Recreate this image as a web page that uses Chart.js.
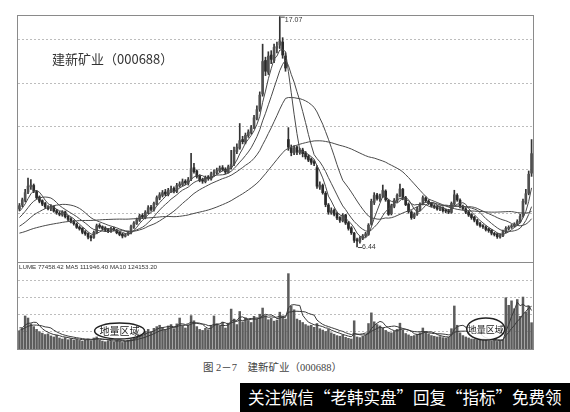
<!DOCTYPE html>
<html>
<head>
<meta charset="utf-8">
<script src="https://cdn.jsdelivr.net/npm/chart.js@4.4.1/dist/chart.umd.min.js"></script>
<style>
  html, body { margin: 0; padding: 0; background: #fff; width: 570px; height: 412px; overflow: hidden; position: relative; }
  #frame { position: absolute; left: 17px; top: 15px; width: 517px; height: 335px; box-sizing: border-box; border: 1px solid #8a8a8a; }
  #sep { position: absolute; left: 17px; top: 262px; width: 517px; height: 1px; background: #8a8a8a; }
  #main { position: absolute; left: 18px; top: 16px; }
  #vol { position: absolute; left: 18px; top: 263px; }
  #title { position: absolute; left: 52px; top: 49px; font: 13px "Noto Sans CJK SC", sans-serif; color: #333; white-space: nowrap; }
  #caption { position: absolute; left: 203px; top: 359px; font: 10.5px "Liberation Serif", "Noto Sans CJK SC", serif; color: #444; white-space: nowrap; }
  #banner { position: absolute; left: 240px; top: 383px; width: 330px; height: 29px; background: #000; overflow: hidden; }
  #banner span { position: absolute; left: 8px; top: 3px; font: 16.5px "Noto Sans CJK SC", sans-serif; color: #fff; white-space: nowrap; line-height: 22px; }
</style>
</head>
<body>
<div id="frame"></div>
<div id="sep"></div>
<canvas id="main" width="515" height="246"></canvas>
<canvas id="vol" width="515" height="86"></canvas>
<div id="title">建新矿业（000688）</div>
<div id="caption">图 2－7　建新矿业（000688）</div>
<div id="banner"><span>关注微信“老韩实盘”回复“指标”免费领</span></div>
<script>
// Daily candles, oldest first
const opens = [
  8.20, 8.38, 8.60, 8.98, 9.22, 9.28, 9.00, 8.75, 8.58, 8.45,
  8.28, 8.20, 8.30, 8.12, 8.00, 7.92, 8.06, 7.85, 7.74, 7.62,
  7.50, 7.36, 7.30, 7.14, 7.06, 6.92, 6.88, 7.10, 7.44, 7.38,
  7.32, 7.24, 7.16, 7.30, 7.22, 7.12, 7.04, 6.94, 7.02, 7.10,
  7.36, 7.52, 7.68, 7.90, 7.80, 8.02, 8.28, 8.16, 8.42, 8.70,
  8.82, 8.98, 8.86, 9.02, 9.15, 9.00, 9.26, 9.32, 9.48, 9.38,
  9.58, 10.10, 9.95, 9.72, 9.55, 9.46, 9.68, 9.58, 9.80, 9.88,
  9.96, 10.10, 10.04, 9.88, 10.12, 10.28, 10.85, 11.00, 11.40, 11.28,
  11.58, 11.72, 11.98, 12.38, 12.80, 13.50, 15.05, 14.50, 15.30, 15.05,
  15.62, 15.75, 15.90, 15.25, 11.40, 11.02, 10.78, 11.05, 10.80, 10.92,
  10.78, 10.62, 10.50, 10.38, 10.10, 9.20, 9.28, 8.92, 8.38, 8.02,
  8.14, 7.98, 7.80, 7.65, 7.92, 7.56, 7.32, 7.08, 6.78, 6.70,
  6.84, 6.96, 7.02, 7.50, 8.50, 8.85, 8.66, 8.80, 9.02, 8.60,
  7.98, 8.32, 8.58, 8.80, 9.10, 8.72, 8.42, 8.06, 7.82, 7.96,
  8.18, 8.42, 8.70, 8.56, 8.46, 8.34, 8.30, 8.18, 8.26, 8.14,
  8.12, 8.04, 8.42, 8.82, 8.60, 8.32, 8.20, 8.06, 7.94, 7.82,
  7.66, 7.52, 7.40, 7.36, 7.28, 7.22, 7.06, 7.04, 6.90, 6.96,
  7.14, 7.28, 7.36, 7.40, 7.50, 7.60, 7.88, 8.50, 8.92, 9.85
];
const highs = [
  8.45, 8.70, 9.10, 9.62, 9.55, 9.35, 9.05, 8.80, 8.62, 8.50,
  8.35, 8.40, 8.34, 8.18, 8.08, 8.12, 8.10, 7.90, 7.80, 7.68,
  7.55, 7.42, 7.34, 7.20, 7.10, 6.98, 7.18, 7.50, 7.52, 7.42,
  7.38, 7.30, 7.35, 7.36, 7.26, 7.15, 7.08, 7.06, 7.18, 7.45,
  7.62, 7.78, 7.95, 7.98, 8.12, 8.35, 8.36, 8.52, 8.80, 8.95,
  9.05, 9.10, 9.15, 9.25, 9.22, 9.38, 9.45, 9.58, 9.55, 9.65,
  10.76, 10.30, 10.00, 9.78, 9.62, 9.72, 9.74, 9.90, 10.00, 10.08,
  10.18, 10.20, 10.10, 10.22, 10.90, 11.05, 11.20, 12.14, 11.55, 11.70,
  11.85, 12.05, 12.52, 12.95, 13.60, 15.80, 15.20, 15.45, 15.50, 15.80,
  15.90, 17.07, 16.10, 15.40, 11.95, 11.15, 11.12, 11.10, 11.00, 11.00,
  10.85, 10.70, 10.55, 10.45, 10.20, 9.45, 9.35, 9.00, 8.45, 8.25,
  8.20, 8.05, 7.85, 7.98, 7.95, 7.62, 7.38, 7.12, 6.85, 6.92,
  7.02, 7.12, 7.52, 8.65, 8.95, 8.92, 8.88, 9.30, 9.08, 8.65,
  8.42, 8.68, 8.90, 9.35, 9.15, 8.78, 8.48, 8.12, 8.02, 8.28,
  8.48, 8.80, 8.76, 8.62, 8.50, 8.40, 8.36, 8.30, 8.30, 8.20,
  8.18, 8.52, 9.06, 8.90, 8.66, 8.38, 8.26, 8.12, 7.98, 7.86,
  7.72, 7.58, 7.48, 7.42, 7.32, 7.25, 7.12, 7.08, 7.05, 7.22,
  7.38, 7.42, 7.48, 7.56, 7.70, 7.95, 8.65, 9.10, 9.95, 11.40
];
const lows = [
  8.12, 8.30, 8.52, 8.90, 9.10, 8.95, 8.65, 8.48, 8.35, 8.22,
  8.15, 8.12, 8.05, 7.95, 7.88, 7.86, 7.78, 7.66, 7.55, 7.45,
  7.30, 7.22, 7.05, 6.98, 6.82, 6.72, 6.84, 7.05, 7.30, 7.22,
  7.15, 7.10, 7.12, 7.18, 7.05, 6.96, 6.86, 6.90, 6.98, 7.05,
  7.30, 7.48, 7.62, 7.75, 7.74, 7.98, 8.10, 8.10, 8.38, 8.62,
  8.75, 8.80, 8.80, 8.96, 8.94, 8.95, 9.20, 9.25, 9.32, 9.30,
  9.50, 9.85, 9.62, 9.45, 9.38, 9.40, 9.52, 9.52, 9.72, 9.80,
  9.90, 9.95, 9.82, 9.85, 10.05, 10.20, 10.75, 10.95, 11.20, 11.20,
  11.50, 11.65, 11.90, 12.30, 12.70, 13.40, 14.35, 14.40, 14.90, 14.95,
  15.40, 15.60, 15.15, 14.55, 10.90, 10.65, 10.70, 10.70, 10.72, 10.60,
  10.50, 10.38, 10.25, 10.20, 9.15, 9.10, 8.88, 8.30, 7.95, 7.95,
  7.88, 7.70, 7.58, 7.60, 7.48, 7.22, 7.02, 6.65, 6.44, 6.62,
  6.78, 6.90, 6.98, 7.45, 8.40, 8.60, 8.55, 8.72, 8.55, 7.90,
  7.92, 8.25, 8.50, 8.75, 8.62, 8.35, 8.00, 7.72, 7.75, 7.90,
  8.12, 8.38, 8.50, 8.40, 8.28, 8.22, 8.14, 8.12, 8.05, 8.02,
  7.98, 8.00, 8.38, 8.55, 8.25, 8.15, 7.98, 7.85, 7.72, 7.60,
  7.44, 7.36, 7.30, 7.18, 7.12, 7.00, 6.95, 6.84, 6.85, 6.92,
  7.10, 7.22, 7.30, 7.36, 7.45, 7.55, 7.82, 8.42, 8.85, 9.70
];
const closes = [
  8.35, 8.62, 8.95, 9.25, 9.30, 9.02, 8.72, 8.55, 8.42, 8.30,
  8.22, 8.28, 8.10, 8.02, 7.95, 8.05, 7.84, 7.72, 7.60, 7.52,
  7.35, 7.28, 7.12, 7.05, 6.90, 6.86, 7.12, 7.42, 7.36, 7.30,
  7.22, 7.18, 7.28, 7.24, 7.10, 7.02, 6.95, 7.00, 7.12, 7.38,
  7.55, 7.70, 7.88, 7.82, 8.05, 8.25, 8.18, 8.45, 8.72, 8.85,
  8.95, 8.88, 9.05, 9.12, 9.02, 9.28, 9.35, 9.45, 9.40, 9.55,
  10.05, 9.92, 9.70, 9.52, 9.48, 9.65, 9.60, 9.82, 9.90, 9.98,
  10.08, 10.02, 9.90, 10.15, 10.25, 10.90, 11.05, 11.35, 11.30, 11.60,
  11.75, 11.95, 12.40, 12.78, 13.45, 15.00, 14.55, 15.25, 15.10, 15.65,
  15.70, 15.95, 15.30, 14.70, 11.05, 10.80, 11.00, 10.82, 10.90, 10.75,
  10.60, 10.45, 10.35, 10.30, 9.25, 9.30, 8.95, 8.40, 8.05, 8.12,
  7.95, 7.78, 7.68, 7.90, 7.55, 7.30, 7.10, 6.75, 6.72, 6.85,
  6.95, 7.05, 7.45, 8.55, 8.82, 8.68, 8.78, 9.05, 8.62, 7.95,
  8.35, 8.60, 8.82, 9.12, 8.70, 8.40, 8.08, 7.80, 7.95, 8.20,
  8.40, 8.72, 8.58, 8.45, 8.35, 8.28, 8.20, 8.24, 8.12, 8.10,
  8.05, 8.45, 8.85, 8.62, 8.30, 8.22, 8.05, 7.92, 7.80, 7.68,
  7.50, 7.42, 7.38, 7.25, 7.20, 7.08, 7.02, 6.92, 6.98, 7.15,
  7.30, 7.35, 7.42, 7.50, 7.62, 7.85, 8.55, 8.90, 9.80, 10.75
];
// Closes of the sessions before the first candle (feed the moving averages only)
const priorCloses = [
  6.95, 6.90, 6.82, 6.78, 6.85, 6.92, 6.88, 6.80, 6.75, 6.83,
  6.90, 6.96, 6.88, 6.84, 6.79, 6.86, 6.93, 6.97, 6.90, 6.85,
  6.81, 6.87, 6.94, 6.89, 6.83, 6.86, 6.91, 6.88, 6.84, 6.89,
  6.92, 6.98, 7.05, 6.95, 6.88, 7.02, 7.10, 6.96, 7.04, 7.10,
  7.30, 7.42, 7.55, 7.60, 7.72, 7.85, 7.98, 8.05, 8.18
];
const volumes = [
  54000, 61000, 97000, 91000, 74000, 66000, 58000, 51000, 47000, 43000,
  45000, 39000, 36000, 41000, 33000, 30000, 34000, 28000, 31000, 27000,
  29000, 26000, 24000, 28000, 30000, 25000, 33000, 36000, 27000, 24000,
  22000, 25000, 23000, 21000, 26000, 24000, 20000, 23000, 27000, 31000,
  36000, 42000, 48000, 40000, 52000, 58000, 50000, 61000, 66000, 70000,
  64000, 58000, 68000, 72000, 60000, 74000, 91000, 69000, 62000, 71000,
  98000, 83000, 66000, 58000, 55000, 61000, 57000, 70000, 97000, 74000,
  68000, 79000, 62000, 76000, 117000, 88000, 72000, 110000, 80000, 92000,
  84000, 78000, 96000, 88000, 102000, 120000, 98000, 86000, 90000, 82000,
  85000, 108000, 96000, 88000, 220000, 126000, 115000, 88000, 84000, 78000,
  72000, 68000, 70000, 64000, 75000, 60000, 56000, 52000, 58000, 48000,
  44000, 40000, 38000, 42000, 35000, 32000, 30000, 83000, 36000, 34000,
  38000, 42000, 75000, 106000, 80000, 72000, 68000, 62000, 55000, 50000,
  48000, 52000, 58000, 76000, 56000, 46000, 42000, 38000, 40000, 44000,
  48000, 62000, 52000, 45000, 40000, 38000, 36000, 37000, 34000, 33000,
  35000, 60000, 126000, 70000, 48000, 40000, 36000, 33000, 30000, 29000,
  28000, 27000, 30000, 26000, 25000, 24000, 27000, 23000, 25000, 28000,
  150000, 128000, 141000, 118000, 144800, 96000, 152000, 108273.58, 126000, 77458.42
];
const priorVolumes = [40000, 45000, 52000, 48000, 55000, 60000, 58000, 65000, 70000];
const priceMaPeriods = [5, 10, 20, 50];
const volumeMaPeriods = [5, 10];
const priceGrid = [8, 10, 12, 14, 16];
const volumeGrid = [50000, 100000, 150000, 200000];
const lowVolumeZones = [
  { text: '地量区域', at: 35, rx: 25, ry: 8, dy: 68, size: 10 },
  { text: '地量区域', at: 163, rx: 19, ry: 11, dy: 66, size: 9 }
];

function movingAverage(series, prior, period) {
  const all = prior.concat(series);
  const out = [];
  for (let i = prior.length; i < all.length; i++) {
    const start = i - period + 1;
    if (start < 0) { out.push(null); continue; }
    let s = 0;
    for (let k = start; k <= i; k++) s += all[k];
    out.push(s / period);
  }
  return out;
}

const labels = closes.map((_, i) => i);
const ink = '#333';

const maLines = priceMaPeriods.map(p => ({
  type: 'line',
  data: movingAverage(closes, priorCloses, p),
  borderColor: '#4a4a4a',
  borderWidth: 1,
  pointRadius: 0,
  tension: 0,
  order: 0
}));

// Marks the highest and lowest prices of the window
const extremeLabels = {
  id: 'extremeLabels',
  afterDatasetsDraw(chart) {
    const { ctx, scales } = chart;
    let hi = 0, lo = 0;
    highs.forEach((v, i) => { if (v > highs[hi]) hi = i; });
    lows.forEach((v, i) => { if (v < lows[lo]) lo = i; });
    ctx.save();
    ctx.strokeStyle = '#444';
    ctx.fillStyle = '#333';
    ctx.lineWidth = 1;
    ctx.font = '7px "Liberation Sans", sans-serif';
    ctx.textBaseline = 'middle';
    const hx = scales.x.getPixelForValue(hi), hy = scales.y.getPixelForValue(highs[hi]);
    ctx.beginPath(); ctx.moveTo(hx + 1, hy + 0.5); ctx.lineTo(hx + 5, hy + 0.5); ctx.stroke();
    ctx.fillText(highs[hi].toFixed(2), hx + 5, hy + 3);
    const lx = scales.x.getPixelForValue(lo), ly = scales.y.getPixelForValue(lows[lo]);
    ctx.beginPath(); ctx.moveTo(lx + 1, ly + 0.5); ctx.lineTo(lx + 5, ly + 0.5); ctx.stroke();
    ctx.fillText(lows[lo].toFixed(2), lx + 5, ly + 0.5);
    ctx.restore();
  }
};

new Chart(document.getElementById('main'), {
  data: {
    labels,
    datasets: [
      ...maLines,
      {
        type: 'bar',
        data: opens.map((o, i) => [o, closes[i]]),
        backgroundColor: opens.map((o, i) => closes[i] >= o ? '#505050' : '#2a2a2a'),
        barThickness: 2,
        minBarLength: 1,
        grouped: false,
        order: 1
      },
      {
        type: 'bar',
        data: lows.map((l, i) => [l, highs[i]]),
        backgroundColor: ink,
        barThickness: 1,
        grouped: false,
        order: 2
      }
    ]
  },
  options: {
    responsive: false,
    animation: false,
    events: [],
    layout: { padding: 0 },
    plugins: { legend: { display: false }, tooltip: { enabled: false } },
    scales: {
      x: { display: false, offset: true },
      y: {
        min: 5.75, max: 17.1,
        afterBuildTicks: s => { s.ticks = priceGrid.map(v => ({ value: v })); },
        ticks: { display: false },
        grid: { drawTicks: false, color: '#bdbdbd', lineWidth: 1 },
        border: { display: false, dash: [2, 2] }
      }
    }
  },
  plugins: [extremeLabels]
});

const volMa = volumeMaPeriods.map(p => movingAverage(volumes, priorVolumes, p));
const fmt = v => v.toFixed(2);
const volumeCaption = 'LUME ' + fmt(volumes[volumes.length - 1]) +
  ' MA5 ' + fmt(volMa[0][volMa[0].length - 1]) +
  ' MA10 ' + fmt(volMa[1][volMa[1].length - 1]);

const volumeDecor = {
  id: 'volumeDecor',
  afterDatasetsDraw(chart) {
    const { ctx, scales } = chart;
    ctx.save();
    ctx.fillStyle = '#333';
    ctx.font = '6.2px "Liberation Sans", sans-serif';
    ctx.textBaseline = 'middle';
    ctx.fillText(volumeCaption, 1, 4);
    lowVolumeZones.forEach(z => {
      const cx = scales.x.getPixelForValue(z.at);
      ctx.beginPath();
      ctx.ellipse(cx, z.dy, z.rx, z.ry, 0, 0, Math.PI * 2);
      ctx.fillStyle = 'rgba(255,255,255,0.85)';
      ctx.fill();
      ctx.lineWidth = 1.5;
      ctx.strokeStyle = '#222';
      ctx.stroke();
      ctx.fillStyle = '#1a1a1a';
      ctx.font = z.size + 'px "Noto Sans CJK SC", sans-serif';
      ctx.textAlign = 'center';
      ctx.fillText(z.text, cx, z.dy + 0.5);
    });
    ctx.restore();
  }
};

new Chart(document.getElementById('vol'), {
  data: {
    labels,
    datasets: [
      ...volMa.map(d => ({
        type: 'line', data: d, borderColor: '#3a3a3a', borderWidth: 1,
        pointRadius: 0, tension: 0, order: 0
      })),
      {
        type: 'bar',
        data: volumes,
        backgroundColor: '#5c5c5c',
        barPercentage: 0.88,
        categoryPercentage: 1,
        order: 1
      }
    ]
  },
  options: {
    responsive: false,
    animation: false,
    events: [],
    layout: { padding: 0 },
    plugins: { legend: { display: false }, tooltip: { enabled: false } },
    scales: {
      x: { display: false, offset: true },
      y: {
        min: 0, max: 250000,
        afterBuildTicks: s => { s.ticks = volumeGrid.map(v => ({ value: v })); },
        ticks: { display: false },
        grid: { drawTicks: false, color: '#bdbdbd', lineWidth: 1 },
        border: { display: false, dash: [2, 2] }
      }
    }
  },
  plugins: [volumeDecor]
});
</script>
</body>
</html>
